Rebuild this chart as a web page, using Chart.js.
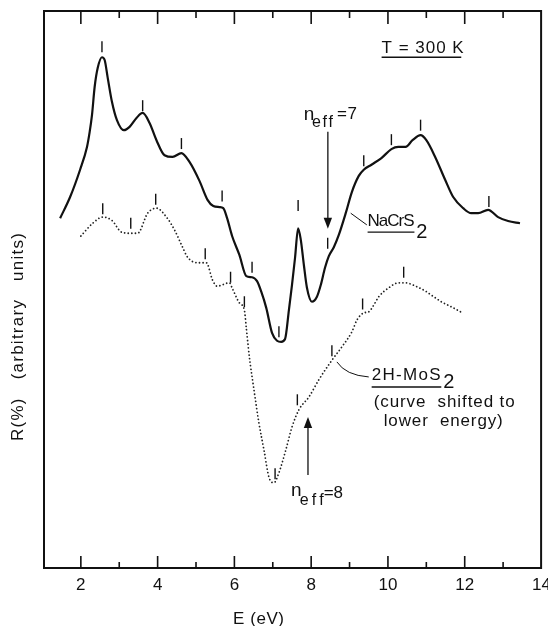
<!DOCTYPE html>
<html><head><meta charset="utf-8">
<script src="https://cdn.jsdelivr.net/npm/chart.js@4.4.0/dist/chart.umd.min.js"></script>
<style>html,body{margin:0;padding:0;background:#fff;}canvas{display:block;}</style>
</head><body>
<canvas id="c" width="548" height="626"></canvas>
<script>
// ---- data (E in eV, R in arbitrary units) ----
const xTickLabels = [2, 4, 6, 8, 10, 12, 14];

const nacrsE = [1.46,1.72,1.98,2.16,2.23,2.29,2.36,2.44,2.55,2.62,2.70,2.81,2.94,3.12,3.27,3.45,3.61,3.79,3.97,4.18,4.39,4.62,4.83,5.09,5.30,5.45,5.61,5.71,5.81,5.94,6.13,6.31,6.46,6.59,6.70,6.83,6.98,7.11,7.22,7.32,7.42,7.50,7.58,7.66,7.73,7.81,7.89,8.02,8.15,8.25,8.36,8.46,8.59,8.72,8.90,9.06,9.24,9.37,9.57,9.83,10.09,10.27,10.46,10.64,10.85,11.00,11.23,11.49,11.70,11.96,12.17,12.35,12.61,12.87,13.13,13.44];
const nacrsR = [62.8,66.6,71.5,75.6,78.3,81.3,86.4,89.8,91.7,91.2,88.0,83.7,80.4,78.6,79.2,80.8,81.7,79.9,76.8,74.1,73.8,74.5,72.9,69.5,66.1,65.0,64.8,64.6,62.8,59.6,56.2,52.4,52.2,51.5,49.6,46.7,42.2,40.8,40.6,41.1,46.3,50.8,55.7,61.0,58.9,54.4,50.3,47.8,48.7,50.8,53.9,56.0,57.6,59.8,63.7,67.5,70.4,71.5,72.4,73.6,75.2,75.6,75.6,76.8,77.7,76.8,73.8,69.7,66.6,64.6,63.7,63.7,64.3,63.0,62.3,61.9];

const mosE = [2.00,2.31,2.57,2.81,3.06,3.27,3.48,3.74,3.97,4.23,4.44,4.65,4.78,5.04,5.27,5.43,5.55,5.87,5.94,6.13,6.26,6.31,6.39,6.51,6.64,6.77,6.90,7.03,7.16,7.34,7.50,7.68,7.94,8.20,8.54,8.80,9.06,9.19,9.37,9.50,9.63,9.76,10.02,10.28,10.46,10.72,10.98,11.13,11.39,11.65,11.89];
const mosR = [59.6,61.9,63.0,62.4,60.3,60.1,60.1,63.7,64.6,63.0,60.7,57.6,55.8,54.8,54.8,51.7,50.6,51.2,50.3,47.6,46.3,43.1,37.9,32.0,26.0,21.2,16.3,15.3,17.1,21.2,25.3,28.4,30.7,33.8,37.3,39.7,42.4,44.5,45.8,46.0,47.2,48.7,50.3,51.2,51.2,50.6,49.7,49.0,47.8,46.9,46.0];

// structure marks ("|") above the curves
const nacrsMarkE = [2.55,3.61,4.62,5.68,6.46,7.16,7.66,8.43,9.37,10.09,10.85,12.63];
const nacrsMarkR = [93.6,83.0,76.2,66.8,54.0,42.4,65.1,58.3,73.1,76.9,79.5,65.8];
const mosMarkE = [2.57,3.30,3.95,5.24,5.90,6.26,7.06,7.64,8.54,9.34,10.41];
const mosMarkR = [64.5,61.9,66.2,56.4,52.2,47.8,16.9,30.2,39.0,47.4,53.1];

const ink = '#111';
const FONT = '"Liberation Sans", Arial, sans-serif';
const pts = (xs, ys) => xs.map((v, i) => ({x: v, y: ys[i]}));

function fitText(ctx, str, x, y, w) {
  ctx.letterSpacing = '0px';
  const m = ctx.measureText(str).width;
  const n = str.length;
  const ls = n > 1 ? (w - m) / (n - 1) : 0;
  ctx.letterSpacing = ls.toFixed(2) + 'px';
  ctx.fillText(str, x, y);
  ctx.letterSpacing = '0px';
}

const deco = {
  id: 'deco',
  afterDraw(chart) {
    const {ctx, chartArea: a, scales: {x, y}} = chart;
    const X = v => x.getPixelForValue(v), Y = v => y.getPixelForValue(v);
    ctx.save();
    ctx.strokeStyle = ink; ctx.fillStyle = ink;
    // frame
    ctx.lineWidth = 2;
    ctx.strokeRect(a.left, a.top, a.right - a.left, a.bottom - a.top);
    // inward ticks top and bottom
    ctx.lineWidth = 1.6;
    for (let v = 2; v <= 13; v++) {
      const px = X(v), major = v % 2 === 0;
      ctx.beginPath();
      ctx.moveTo(px, a.bottom); ctx.lineTo(px, a.bottom - (major ? 12 : 6));
      ctx.moveTo(px, a.top); ctx.lineTo(px, a.top + (major ? 13 : 7));
      ctx.stroke();
    }
    // tick labels
    ctx.font = '17px ' + FONT; ctx.textAlign = 'center'; ctx.textBaseline = 'alphabetic';
    xTickLabels.forEach(v => ctx.fillText(String(v), X(v), a.bottom + 22));
    ctx.textAlign = 'left';
    // x title
    ctx.font = '17px ' + FONT;
    fitText(ctx, 'E (eV)', 233, a.bottom + 56, 51);
    // y title (rotated)
    ctx.save();
    ctx.translate(23, 441); ctx.rotate(-Math.PI / 2);
    ctx.font = '17px ' + FONT;
    fitText(ctx, 'R(%)   (arbitrary   units)', 0, 0, 208);
    ctx.restore();

    // T = 300 K
    ctx.font = '17px ' + FONT;
    fitText(ctx, 'T = 300 K', X(9.835), Y(92.5), 82);
    ctx.lineWidth = 1.4;
    ctx.beginPath(); ctx.moveTo(X(9.835), Y(91.7)); ctx.lineTo(X(11.91), Y(91.7)); ctx.stroke();

    // NaCrS2 label
    ctx.font = '17px ' + FONT;
    fitText(ctx, 'NaCrS', X(9.47), Y(61.4), 47);
    ctx.font = '20px ' + FONT;
    ctx.fillText('2', X(10.74), Y(59.3));
    ctx.lineWidth = 1.4;
    ctx.beginPath(); ctx.moveTo(X(9.47), Y(60.3)); ctx.lineTo(X(10.69), Y(60.3)); ctx.stroke();
    ctx.lineWidth = 1;
    ctx.beginPath(); ctx.moveTo(X(9.03), Y(63.7)); ctx.lineTo(X(9.45), Y(61.6)); ctx.stroke();

    // 2H-MoS2 label
    ctx.font = '17px ' + FONT;
    fitText(ctx, '2H-MoS', X(9.576), Y(33.8), 69);
    ctx.font = '20px ' + FONT;
    ctx.fillText('2', X(11.44), Y(32.3));
    ctx.lineWidth = 1.4;
    ctx.beginPath(); ctx.moveTo(X(9.576), Y(32.5)); ctx.lineTo(X(11.39), Y(32.5)); ctx.stroke();
    ctx.lineWidth = 1;
    ctx.beginPath(); ctx.moveTo(X(8.67), Y(37.0));
    ctx.quadraticCurveTo(X(8.90), Y(34.6), X(9.50), Y(34.3)); ctx.stroke();
    ctx.font = '17px ' + FONT;
    fitText(ctx, '(curve  shifted to', X(9.63), Y(28.9), 141);
    fitText(ctx, 'lower  energy)', X(9.89), Y(25.5), 119);

    // arrows
    const arrow = (e, vTail, vTip, dir) => {
      const px = X(e), tail = Y(vTail), tip = Y(vTip);
      ctx.lineWidth = 1.3;
      ctx.beginPath(); ctx.moveTo(px, tail); ctx.lineTo(px, tip - dir * 8); ctx.stroke();
      ctx.beginPath(); ctx.moveTo(px, tip); ctx.lineTo(px - 4.2, tip - dir * 11); ctx.lineTo(px + 4.2, tip - dir * 11); ctx.closePath(); ctx.fill();
    };
    // n_eff = 7 (down arrow)
    arrow(8.435, 78.3, 60.9, 1);
    ctx.font = '19px ' + FONT; ctx.fillText('n', X(7.81), Y(80.4));
    ctx.font = '16px ' + FONT; fitText(ctx, 'eff', X(8.02), Y(79.1), 21);
    ctx.font = '17px ' + FONT; fitText(ctx, '=7', X(8.67), Y(80.6), 20);

    // n_eff = 8 (up arrow)
    arrow(7.917, 16.7, 27.1, -1);
    ctx.font = '19px ' + FONT; ctx.fillText('n', X(7.475), Y(12.9));
    ctx.font = '16px ' + FONT; fitText(ctx, 'eff', X(7.70), Y(11.3), 24);
    ctx.font = '17px ' + FONT; fitText(ctx, '=8', X(8.33), Y(12.6), 19);
    ctx.restore();
  }
};

new Chart(document.getElementById('c'), {
  type: 'line',
  data: {
    datasets: [
      {label: 'NaCrS2', data: pts(nacrsE, nacrsR), borderColor: ink, borderWidth: 2.2,
       pointRadius: 0, cubicInterpolationMode: 'monotone', fill: false},
      {label: '2H-MoS2', data: pts(mosE, mosR), borderColor: '#222', borderWidth: 1.8,
       borderDash: [0.01, 3.6], borderCapStyle: 'round', pointRadius: 0,
       cubicInterpolationMode: 'monotone', fill: false},
      {type: 'scatter', label: 'NaCrS2 structure', data: pts(nacrsMarkE, nacrsMarkR), showLine: false,
       pointStyle: 'line', rotation: 90, pointRadius: 5.5, pointBorderWidth: 1.4,
       pointBorderColor: ink, pointBackgroundColor: ink},
      {type: 'scatter', label: 'MoS2 structure', data: pts(mosMarkE, mosMarkR), showLine: false,
       pointStyle: 'line', rotation: 90, pointRadius: 5.5, pointBorderWidth: 1.4,
       pointBorderColor: ink, pointBackgroundColor: ink}
    ]
  },
  options: {
    responsive: false, animation: false, devicePixelRatio: 1,
    layout: {padding: {left: 44, right: 5, top: 11, bottom: 58}},
    scales: {
      x: {type: 'linear', min: 1.04, max: 13.99, display: false},
      y: {type: 'linear', min: 0, max: 100, display: false}
    },
    plugins: {legend: {display: false}, tooltip: {enabled: false}},
    events: []
  },
  plugins: [deco]
});
</script>
</body></html>
